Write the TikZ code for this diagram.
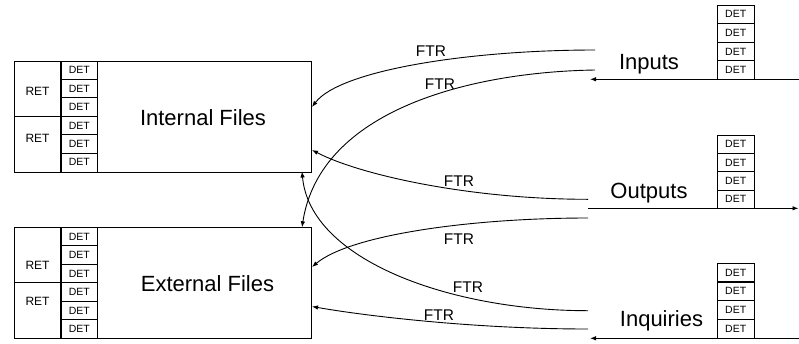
\documentclass[tikz,border=0pt]{standalone}
\usepackage{fontspec}
\setmainfont{Liberation Sans}
\usetikzlibrary{arrows.meta}
\tikzset{
  box/.style={draw, line width=1.1pt, inner sep=0pt, anchor=north west},
  cell/.style={draw, line width=0.9pt, inner sep=0pt, minimum width=36.5pt, minimum height=18.5pt, font=\fontsize{10.5}{11}\selectfont},
  bigtxt/.style={font=\fontsize{22}{24}\selectfont, anchor=base, inner sep=0pt},
  ftr/.style={font=\fontsize{15.5}{17}\selectfont, anchor=base, inner sep=0pt},
  rettxt/.style={font=\fontsize{12}{13}\selectfont, inner sep=0pt},
  flow/.style={line width=0.9pt, -{Latex[length=6pt,width=4.5pt]}},
}
\begin{document}
\begin{tikzpicture}[x=1pt,y=-1pt]
\useasboundingbox (0,0) rectangle (799,343);
% ---------- Internal Files ----------
\node[box, minimum width=297pt, minimum height=110.5pt] (int) at (14,61) {};
\draw[line width=1.1pt] (61,61) -- (61,171.5);
\draw[line width=1.1pt] (97.5,61) -- (97.5,171.5);
\draw[line width=1.1pt] (14,116.25) -- (61,116.25);
\foreach \i in {1,...,5} \draw[line width=0.9pt] (61,61+\i*18.42) -- (97.5,61+\i*18.42);
\foreach \i in {0,...,5} \node[font=\fontsize{10.5}{11}\selectfont, inner sep=0pt] (idet\i) at (79.25,70.2+\i*18.42) {DET};
\node[rettxt] (iret1) at (37.5,91.7) {RET};
\node[rettxt] (iret2) at (37.5,138) {RET};
\node[bigtxt] (intlbl) at (203,125) {Internal Files};
% ---------- External Files ----------
\node[box, minimum width=297pt, minimum height=111pt] (ext) at (14,227.3) {};
\draw[line width=1.1pt] (61,227.3) -- (61,338.3);
\draw[line width=1.1pt] (97.5,227.3) -- (97.5,338.3);
\draw[line width=1.1pt] (14,282.8) -- (61,282.8);
\foreach \i in {1,...,5} \draw[line width=0.9pt] (61,227.3+\i*18.5) -- (97.5,227.3+\i*18.5);
\foreach \i in {0,...,5} \node[font=\fontsize{10.5}{11}\selectfont, inner sep=0pt] (edet\i) at (79.25,236.55+\i*18.5) {DET};
\node[rettxt] (eret1) at (37.5,265) {RET};
\node[rettxt] (eret2) at (37.5,301.7) {RET};
\node[bigtxt] (extlbl) at (207.5,291.7) {External Files};
% ---------- right-hand DET stacks ----------
\foreach \i in {0,...,3} {
  \node[cell] (inp\i) at (735.7,14.25+\i*18.58) {DET};
  \node[cell] (out\i) at (735.7,144.3+\i*18.33) {DET};
  \node[cell] (inq\i) at (735.7,272.6+\i*18.75) {DET};
}
\node[bigtxt] (inputs) at (649,69.3) {Inputs};
\node[bigtxt] (outputs) at (649,198.3) {Outputs};
\node[bigtxt] (inquiries) at (661.5,326.7) {Inquiries};
% ---------- coordinates ----------
\coordinate (inR) at (799,79.3);
\coordinate (inL) at (590,79.3);
\coordinate (outL) at (588,208.3);
\coordinate (outR) at (798.5,208.3);
\coordinate (inqR) at (799,338.3);
\coordinate (inqL) at (590,338.3);
\coordinate (a1) at (595,50);   \coordinate (t1) at (312,107);
\coordinate (a2) at (595,70);   \coordinate (t2) at (302,227.3);
\coordinate (b1) at (588,199.3);\coordinate (u1) at (312,150);
\coordinate (b2) at (588,218);  \coordinate (u2) at (312,267);
\coordinate (c1) at (588,310.7);\coordinate (v1) at (302,171.5);
\coordinate (c2) at (588,329);  \coordinate (v2) at (312,306.5);
% ---------- main flows ----------
\draw[flow] (inR) -- (inL);
\draw[flow] (outL) -- (outR);
\draw[flow] (inqR) -- (inqL);
% ---------- FTR curves ----------
\draw[flow] (a1) .. controls (470,50) and (340,70) .. (t1);
\draw[flow] (a2) .. controls (470,72) and (320,110) .. (t2);
\draw[flow] (b1) .. controls (470,199.3) and (360,175) .. (u1);
\draw[flow] (b2) .. controls (470,218) and (350,235) .. (u2);
\draw[flow] (c1) .. controls (450,310.7) and (310,260) .. (v1);
\draw[flow] (c2) .. controls (470,329) and (360,315) .. (v2);
% ---------- FTR labels ----------
\node[ftr] (f1) at (431,56) {FTR};
\node[ftr] (f2) at (440,89) {FTR};
\node[ftr] (f3) at (459,186) {FTR};
\node[ftr] (f4) at (459,244) {FTR};
\node[ftr] (f5) at (468,292.7) {FTR};
\node[ftr] (f6) at (439,320) {FTR};
\end{tikzpicture}
\end{document}
